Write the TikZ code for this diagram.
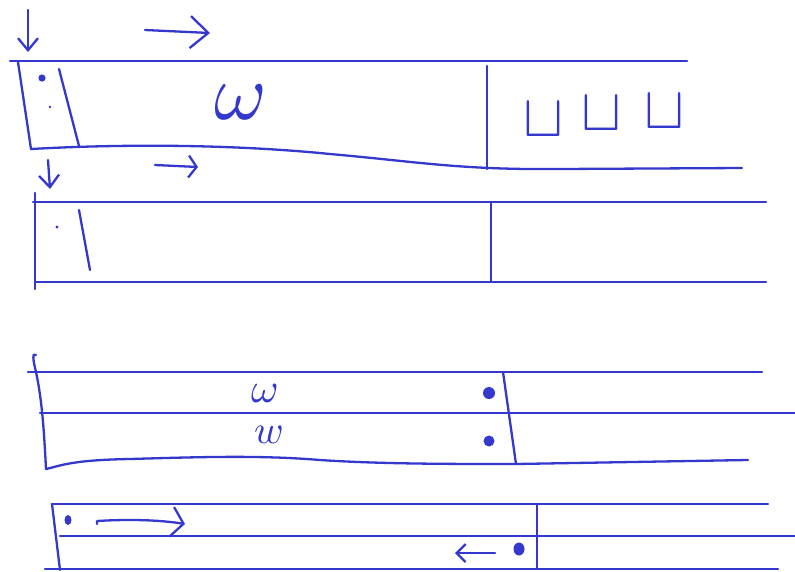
\documentclass[tikz,border=0pt]{standalone}
\usepackage{tikz}
\usetikzlibrary{arrows.meta}
\definecolor{penblue}{RGB}{52, 56, 204}

\begin{document}
\begin{tikzpicture}[x=1pt, y=-1pt, line cap=round, line join=round,
    pen/.style={penblue, line width=2.3pt},
    bigbarb/.style={-{Straight Barb[length=18pt, width=32pt]}},
    smallbarb/.style={-{Straight Barb[length=12pt, width=20pt]}},
    letter/.style={penblue, inner sep=0pt}]
    \useasboundingbox (0,0) rectangle (795,571);

    % First block: input and arrows
    \draw[pen, smallbarb] (28,10) -- (28,52);
    \draw[pen, bigbarb] (145,30) -- (210,33);
    \draw[pen] (10,61) -- (687,61);
    \draw[pen] (18,62) -- (31,149);
    \draw[pen] (59,69) -- (79,146);
    \fill[penblue] (42,78) circle (3.6);
    \fill[penblue] (50,107) circle (1.4);
    % wavy lower edge
    \draw[pen] (31,149) .. controls (120,144) and (230,144) .. (330,154)
        .. controls (420,162) and (460,170) .. (560,169) -- (742,168);
    \draw[pen] (487,66) -- (487,169);
    \node[letter, scale=8] (omegaA) at (241,102) {$\omega$};
    \node[letter, scale=6] (cupA) at (543,120) {$\sqcup$};
    \node[letter, scale=6] (cupB) at (601,114) {$\sqcup$};
    \node[letter, scale=6] (cupC) at (664,112) {$\sqcup$};

    % Second block
    \draw[pen, smallbarb] (48,160) -- (50,189);
    \draw[pen, -{Straight Barb[length=8pt, width=22pt]}] (155,165) -- (198,167);
    \draw[pen] (33,202) -- (766,202);
    \draw[pen] (35,193) -- (35,289);
    \draw[pen] (35,282) -- (766,282);
    \draw[pen] (79,210) -- (90,270);
    \fill[penblue] (57,227) circle (1.6);
    \draw[pen] (491,203) -- (491,281);

    % Third block: two rows
    \draw[pen] (36,355) .. controls (32,352) and (33,360) .. (36,372)
        .. controls (42,400) and (44,430) .. (46,469);
    \draw[pen] (28,372) -- (762,372);
    \draw[pen] (40,413) -- (795,413);
    \draw[pen] (46,469) .. controls (60,466) and (70,460) .. (130,459)
        .. controls (200,457) and (260,455) .. (320,460)
        .. controls (380,464) and (450,464) .. (516,464) -- (748,460);
    \draw[pen] (503,372) -- (516,464);
    \node[letter, scale=4.2] (omegaB) at (265,393) {$\omega$};
    \node[letter, scale=4] (wB) at (269,435) {$w$};
    \fill[penblue] (489,393) circle (6);
    \fill[penblue] (489,441) circle (5.5);

    % Fourth block: two lanes
    \draw[pen] (52,504) -- (768,504);
    \draw[pen] (52,504) -- (60,570);
    \draw[pen] (60,536) -- (795,536);
    \draw[pen] (45,569) -- (778,569);
    \draw[pen] (537,504) -- (537,569);
    \fill[penblue] (68,520) ellipse (3.5 and 5);
    \draw[pen, -{Straight Barb[length=12pt, width=30pt]}] (97,524) -- (97,521)
        .. controls (130,519) and (160,520) .. (185,524);
    \fill[penblue] (519,549) ellipse (5.5 and 6.5);
    \draw[pen, -{Straight Barb[length=9pt, width=18pt]}] (495,553) -- (455,553);
\end{tikzpicture}
\end{document}
